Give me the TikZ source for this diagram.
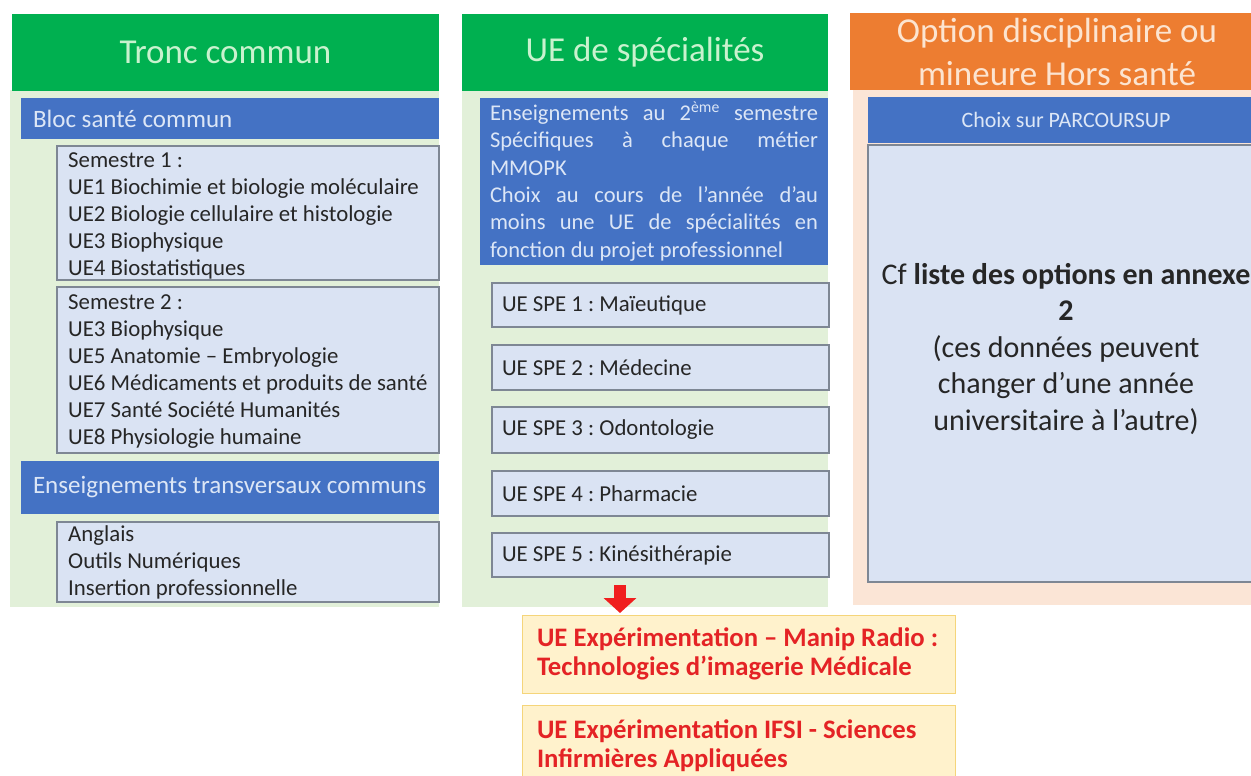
\documentclass[tikz,border=0pt]{standalone}
\usepackage{fontspec}
\setmainfont{Carlito}
\usetikzlibrary{arrows.meta}
\definecolor{hgreen}{HTML}{00B050}
\definecolor{bgreen}{HTML}{E2F0D9}
\definecolor{hblue}{HTML}{4472C4}
\definecolor{lblue}{HTML}{DAE3F3}
\definecolor{bartxt}{HTML}{DCE6F6}
\definecolor{horange}{HTML}{ED7D31}
\definecolor{peach}{HTML}{FBE5D6}
\definecolor{peachtxt}{HTML}{FCE4D0}
\definecolor{lyellow}{HTML}{FFF2CC}
\definecolor{gold}{HTML}{F5D57A}
\definecolor{mint}{HTML}{C9F2CE}
\definecolor{redtxt}{HTML}{E42325}
\definecolor{arrred}{HTML}{F01E1E}
\definecolor{boxgray}{HTML}{7E8794}
\definecolor{darktext}{HTML}{262626}
\frenchspacing
\begin{document}
\frenchspacing
\begin{tikzpicture}[x=1pt,y=-1pt,
  base/.style={anchor=north west, inner sep=0pt, outer sep=0pt},
  hdr/.style={base, text=mint, font=\fontsize{35}{43}\selectfont, align=center},
  bar/.style={base, fill=hblue, text=bartxt},
  ibox/.style={base, fill=lblue, draw=boxgray, line width=1.3pt, text=darktext},
  body/.style={font=\fontsize{22.8}{27}\selectfont, align=flush left},
  btext/.style={body, anchor=north west, inner sep=0pt, text=darktext},
  ybox/.style={base, fill=lyellow, draw=gold, line width=1pt, text=redtxt,
    font=\bfseries\fontsize{26.7}{29}\selectfont, align=flush left}]
\useasboundingbox (0,0) rectangle (1251,776);
\clip (0,0) rectangle (1251,776);
\fill[white] (0,0) rectangle (1251,776);

% ---------- Column 1 ----------
\node[base, fill=bgreen, minimum width=429pt, minimum height=517pt] (bg1) at (10,90) {};
\node[hdr, fill=hgreen, minimum width=427pt, minimum height=77pt] (h1) at (12,14) {Tronc commun};
\node[bar, minimum height=41pt, text width=394pt, inner xsep=12pt,
  font=\fontsize{25}{29}\selectfont, align=flush left] (b1) at (21,98) {Bloc santé commun};
\node[ibox, minimum width=382pt, minimum height=134pt] (s1) at (57,146) {};
\node[btext] (s1t) at (68,152.3)
  {Semestre 1 :\\UE1 Biochimie et biologie moléculaire\\UE2 Biologie cellulaire et histologie\\UE3 Biophysique\\UE4 Biostatistiques};
\node[ibox, minimum width=382pt, minimum height=166pt] (s2) at (57,287) {};
\node[btext] (s2t) at (68,294.3)
  {Semestre 2 :\\UE3 Biophysique\\UE5 Anatomie – Embryologie\\UE6 Médicaments et produits de santé\\UE7 Santé Société Humanités\\UE8 Physiologie humaine};
\node[bar, minimum height=53pt, text width=394pt, inner xsep=12pt,
  font=\fontsize{25}{29}\selectfont, align=flush left] (b2) at (21,461) {Enseignements transversaux communs};
\node[ibox, minimum width=382pt, minimum height=80pt] (s3) at (57,522) {};
\node[btext] (s3t) at (68,525)
  {Anglais\\Outils Numériques\\Insertion professionnelle};

% ---------- Column 2 ----------
\node[base, fill=bgreen, minimum width=366pt, minimum height=517pt] (bg2) at (462,90) {};
\node[hdr, fill=hgreen, minimum width=366pt, minimum height=77pt] (h2) at (462,14) {UE de spécialités};
\node[bar, minimum height=167pt, text width=328pt, inner xsep=10pt,
  font=\fontsize{22.5}{27.4}\selectfont, align=justify] (b3) at (480,98)
  {Enseignements au 2\textsuperscript{ème} semestre\linebreak Spécifiques à chaque métier\linebreak MMOPK\\Choix au cours de l'année d'au\linebreak moins une UE de spécialités en\linebreak fonction du projet professionnel};
\node[ibox, body, minimum height=44pt, text width=317pt, inner xsep=10pt] (spe1) at (492,283) {UE SPE 1 : Maïeutique};
\node[ibox, body, minimum height=45pt, text width=317pt, inner xsep=10pt] (spe2) at (492,345) {UE SPE 2 : Médecine};
\node[ibox, body, minimum height=46pt, text width=317pt, inner xsep=10pt] (spe3) at (492,407) {UE SPE 3 : Odontologie};
\node[ibox, body, minimum height=45pt, text width=317pt, inner xsep=10pt] (spe4) at (492,471) {UE SPE 4 : Pharmacie};
\node[ibox, body, minimum height=44pt, text width=317pt, inner xsep=10pt] (spe5) at (492,533) {UE SPE 5 : Kinésithérapie};

% ---------- Column 3 ----------
\node[base, fill=peach, minimum width=411pt, minimum height=515pt] (bg3) at (853,90) {};
\node[hdr, fill=horange, text=peachtxt, minimum width=414pt, minimum height=77pt] (h3) at (850,13)
  {Option disciplinaire ou\\mineure Hors santé};
\node[bar, minimum width=396pt, minimum height=46pt, font=\fontsize{22}{26}\selectfont] (b4) at (868,97) {Choix sur PARCOURSUP};
\node[ibox, minimum width=396pt, minimum height=437pt] (big) at (868,145) {};
\node[font=\fontsize{30}{36.5}\selectfont, align=center, text=darktext, inner sep=0pt] (opt) at (1066,349)
  {Cf \textbf{liste des options en annexe}\\\textbf{2}\\(ces données peuvent\\changer d’une année\\universitaire à l’autre)};

% ---------- Bottom boxes ----------
\node[ybox, minimum height=78pt, text width=403pt, inner xsep=15pt] (y1) at (522,615)
  {UE Expérimentation – Manip Radio :\\Technologies d’imagerie Médicale};
\node[ybox, minimum height=82pt, text width=403pt, inner xsep=15pt] (y2) at (522,705)
  {UE Expérimentation IFSI - Sciences\\Infirmières Appliquées};

% ---------- Red arrow ----------
\coordinate (ax) at (620,0);
\draw[arrred, line width=12pt, -{Triangle[width=32pt, length=15pt]}, shorten <=8pt, shorten >=2pt]
  (spe5.south -| ax) -- (y1.north -| ax);
\end{tikzpicture}
\end{document}
